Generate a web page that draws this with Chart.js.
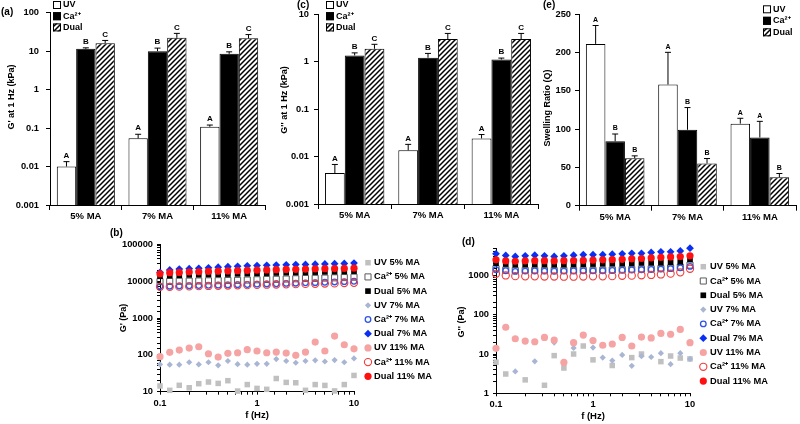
<!DOCTYPE html>
<html lang="en">
<head>
<meta charset="UTF-8">
<title>MA hydrogel rheology and swelling</title>
<script src="https://cdn.jsdelivr.net/npm/chart.js"></script>
<style>
  body { margin: 0; background: #fff; }
  #wrap { position: relative; width: 800px; height: 424px; overflow: hidden; background: #fff; }
  #wrap canvas { position: absolute; left: 0; top: 0; }
</style>
</head>
<body>
<div id="wrap">
  <canvas id="chartA" width="800" height="424"></canvas>
  <canvas id="chartC" width="800" height="424"></canvas>
  <canvas id="chartE" width="800" height="424"></canvas>
  <canvas id="chartB" width="800" height="424"></canvas>
  <canvas id="chartD" width="800" height="424"></canvas>
</div>
<script>
// ---- data ----
const groups = ['5% MA', '7% MA', '11% MA'];

// (a) G' at 1 Hz (kPa), mean and upper error
const gpUV = [0.010, 0.054, 0.108];
const gpCa = [11.5, 10.0, 8.5];
const gpDual = [16.1, 22.2, 21.5];
const gpUVErr = [0.0034, 0.015, 0.012];
const gpCaErr = [0.7, 2.0, 1.1];
const gpDualErr = [2.9, 6.8, 5.5];

// (c) G'' at 1 Hz (kPa)
const gppUV = [0.0045, 0.0135, 0.024];
const gppCa = [1.34, 1.20, 1.10];
const gppDual = [1.85, 2.97, 2.97];
const gppUVErr = [0.0023, 0.0045, 0.005];
const gppCaErr = [0.18, 0.28, 0.08];
const gppDualErr = [0.45, 0.93, 0.93];

// (e) swelling ratio Q
const swUV = [211, 158, 107];
const swCa = [84, 99, 89];
const swDual = [62, 55, 37];
const swUVErr = [24, 42, 7];
const swCaErr = [9.5, 29, 21];
const swDualErr = [3, 6.5, 5];

// significance letters
const modUVLetters = ['A', 'A', 'A'];
const modCaLetters = ['B', 'B', 'B'];
const modDualLetters = ['C', 'C', 'C'];
const swUVLetters = ['A', 'A', 'A'];
const swCaLetters = ['B', 'B', 'A'];
const swDualLetters = ['B', 'B', 'B'];

// frequency sweep (Hz)
const freq = [0.1, 0.126, 0.158, 0.2, 0.251, 0.316, 0.398, 0.501, 0.631, 0.794, 1,
              1.26, 1.58, 2, 2.51, 3.16, 3.98, 5.01, 6.31, 7.94, 10];

const seriesNames = ['UV 5% MA', 'Ca²⁺ 5% MA', 'Dual 5% MA', 'UV 7% MA', 'Ca²⁺ 7% MA',
                     'Dual 7% MA', 'UV 11% MA', 'Ca²⁺ 11% MA', 'Dual 11% MA'];

// (b) G' (Pa)
const bUV5 = [14.3, 10.9, 14.9, 12.8, 16.5, 18.3, 16.8, 19.9, 10.4, 15.6, 12.3, 11.6, 22.8, 17.9, 17.5, 10.9, 15.6, 14.8, 10.5, 15.6, 27.6];
const bCa5 = [9700, 9800, 9900, 10000, 10100, 10200, 10300, 10400, 10500, 10700, 10900, 11100, 11200, 11400, 11600, 11800, 11900, 12100, 12300, 12500, 12800];
const bDual5 = [13600, 14200, 14500, 14800, 15000, 15200, 15400, 15600, 15800, 16000, 16300, 16500, 16700, 17000, 17200, 17400, 17600, 17900, 18100, 18400, 18700];
const bUV7 = [55, 54, 54, 63, 55, 63, 52, 68, 56, 54, 57, 57, 77, 68, 61, 68, 71, 66, 72, 63, 80];
const bCa7 = [7300, 7300, 7400, 7500, 7600, 7700, 7800, 7900, 8000, 8100, 8300, 8400, 8500, 8700, 8800, 9000, 9100, 9300, 9500, 9700, 9900];
const bDual7 = [17400, 20100, 21200, 21800, 22300, 23000, 24000, 24600, 25200, 26000, 26400, 26800, 27300, 27800, 28100, 28500, 28900, 29300, 29800, 30200, 31000];
const bUV11 = [89, 117, 135, 153, 166, 107, 87, 110, 114, 138, 127, 114, 119, 112, 97, 119, 222, 127, 324, 188, 146];
const bCa11 = [7000, 7000, 7100, 7200, 7300, 7400, 7500, 7600, 7700, 7800, 7900, 8000, 8100, 8200, 8300, 8400, 8500, 8600, 8700, 8900, 9000];
const bDual11 = [15900, 17000, 17300, 17700, 18000, 18400, 18700, 19000, 19300, 19600, 19900, 20200, 20500, 20800, 21000, 21300, 21500, 21800, 22000, 22200, 22500];

// (d) G'' (Pa), null = no point shown
const dUV5 = [6.2, 3.1, null, 2.2, null, 1.6, 9.1, 4.4, 10, 16, 7.1, null, 5.1, null, 8.1, 10, null, 6.4, 8.9, 7.9, 7.5];
const dCa5 = [1480, 1360, 1330, 1340, 1340, 1330, 1330, 1340, 1340, 1350, 1350, 1360, 1380, 1400, 1420, 1440, 1470, 1500, 1550, 1620, 1830];
const dDual5 = [2060, 1950, 1900, 1920, 1930, 1920, 1900, 1910, 1920, 1930, 1950, 1980, 2000, 2020, 2050, 2080, 2100, 2130, 2150, 2200, 2580];
const dUV7 = [null, null, 3.6, null, 6.5, null, 19.6, null, 14.3, null, 14.6, 8.1, 6.8, 9.5, 5.0, 8.8, 8.4, 10.5, 5.5, 10.5, 7.5];
const dCa7 = [1400, 1320, 1270, 1290, 1300, 1290, 1280, 1290, 1300, 1310, 1310, 1320, 1340, 1360, 1380, 1400, 1420, 1450, 1490, 1560, 1700];
const dDual7 = [3560, 3230, 3040, 3160, 3290, 3160, 3040, 3160, 3290, 3390, 3390, 3390, 3480, 3560, 3650, 3650, 3840, 4000, 4000, 4200, 4940];
const dUV11 = [14, 48, 24.5, 21.3, 20.5, 26.5, 22.6, 6.1, 19.4, 30.3, 22, 16.7, 18, 26.5, 16, 27, 25.7, 33.4, 31.9, 42.4, 19.4];
const dCa11 = [1100, 1000, 960, 950, 950, 940, 940, 930, 930, 940, 950, 950, 960, 980, 990, 1010, 1030, 1060, 1110, 1200, 1480];
const dDual11 = [2500, 2350, 2300, 2350, 2380, 2380, 2350, 2380, 2400, 2420, 2450, 2500, 2520, 2580, 2650, 2700, 2800, 2880, 2970, 3040, 3160];

// ---- styling ----
const FONT = "'Liberation Sans', Arial, Helvetica, sans-serif";
Chart.defaults.font.family = FONT;
Chart.defaults.font.size = 9;
Chart.defaults.font.weight = 'bold';
Chart.defaults.color = '#000';
Chart.defaults.animation = false;
Chart.defaults.responsive = false;
Chart.defaults.plugins.legend.display = false;
Chart.defaults.plugins.tooltip.enabled = false;

const YW = 40, XH = 20; // fixed axis box sizes so plot areas land where wanted

function font(size) { return 'bold ' + size + 'px ' + FONT; }
function isDecade(v) { const l = Math.log10(v); return Math.abs(l - Math.round(l)) < 1e-6; }
function decLabel(v) { return isDecade(v) ? String(Number(v.toPrecision(3))) : ''; }

function frame(L, R, T, B) {
  return { padding: { left: L - YW, right: 800 - R, top: T, bottom: 424 - B - XH } };
}

// diagonal hatch for the Dual bars
const hatch = (() => {
  const c = document.createElement('canvas');
  c.width = 5; c.height = 5;
  const g = c.getContext('2d');
  g.fillStyle = '#fff'; g.fillRect(0, 0, 5, 5);
  g.strokeStyle = '#000'; g.lineWidth = 1.5;
  g.beginPath();
  g.moveTo(-1, 6); g.lineTo(6, -1);
  g.moveTo(-1, 1); g.lineTo(1, -1);
  g.moveTo(4, 6); g.lineTo(6, 4);
  g.stroke();
  return g.createPattern(c, 'repeat');
})();

const markStyles = [
  { shape: 'rect', r: 3.9, fill: '#c0c0c0', lw: 0 },
  { shape: 'rect', r: 4.3, fill: 'rgba(0,0,0,0)', stroke: '#5a5a5a', lw: 1 },
  { shape: 'rect', r: 4, fill: '#000', lw: 0 },
  { shape: 'rectRot', r: 3.1, fill: '#a9b6d3', lw: 0 },
  { shape: 'circle', r: 2.8, fill: 'rgba(0,0,0,0)', stroke: '#2f55e6', lw: 1.3 },
  { shape: 'rectRot', r: 3.9, fill: '#0a2ff2', lw: 0 },
  { shape: 'circle', r: 3.6, fill: '#f5a3a3', lw: 0 },
  { shape: 'circle', r: 3.6, fill: 'rgba(0,0,0,0)', stroke: '#f23b3b', lw: 1.1 },
  { shape: 'circle', r: 3.6, fill: '#ff1010', lw: 0 }
];

function marker(ctx, s, x, y) {
  ctx.beginPath();
  if (s.shape === 'rect') {
    const h = s.r * Math.SQRT1_2;
    ctx.rect(x - h, y - h, 2 * h, 2 * h);
  } else if (s.shape === 'rectRot') {
    ctx.moveTo(x - s.r, y); ctx.lineTo(x, y - s.r); ctx.lineTo(x + s.r, y); ctx.lineTo(x, y + s.r);
    ctx.closePath();
  } else {
    ctx.arc(x, y, s.r, 0, Math.PI * 2);
  }
  ctx.fillStyle = s.fill; ctx.fill();
  if (s.lw) { ctx.lineWidth = s.lw; ctx.strokeStyle = s.stroke; ctx.stroke(); }
}

// error bars, letters, free texts and hand-made keys
const extras = {
  id: 'extras',
  afterDraw(chart, args, o) {
    const ctx = chart.ctx;
    ctx.save();
    const ys = chart.scales.y;
    chart.data.datasets.forEach((ds, di) => {
      if (!ds.errs) return;
      chart.getDatasetMeta(di).data.forEach((bar, i) => {
        const top = ys.getPixelForValue(ds.data[i] + ds.errs[i]);
        ctx.strokeStyle = '#000'; ctx.lineWidth = 1;
        ctx.beginPath();
        ctx.moveTo(bar.x, bar.y); ctx.lineTo(bar.x, top);
        ctx.moveTo(bar.x - o.cap, top); ctx.lineTo(bar.x + o.cap, top);
        ctx.stroke();
        ctx.fillStyle = '#000'; ctx.font = font(o.letterSize);
        ctx.textAlign = 'center'; ctx.textBaseline = 'bottom';
        ctx.fillText(ds.letters[i], bar.x, top - 2);
      });
    });
    (o.texts || []).forEach(t => {
      ctx.save();
      ctx.fillStyle = '#000'; ctx.font = font(t.size || 9);
      ctx.textAlign = t.align || 'center'; ctx.textBaseline = 'middle';
      ctx.translate(t.x, t.y);
      if (t.rot) ctx.rotate(-Math.PI / 2);
      ctx.fillText(t.t, 0, 0);
      ctx.restore();
    });
    if (o.boxes) {
      const k = o.boxes;
      k.items.forEach((it, i) => {
        const y = k.y0 + i * k.dy;
        ctx.fillStyle = it.fill;
        ctx.fillRect(k.x, y - 4, 8, 8);
        ctx.strokeStyle = '#000'; ctx.lineWidth = 1;
        ctx.strokeRect(k.x + 0.5, y - 3.5, 7, 7);
        ctx.fillStyle = '#000'; ctx.font = font(9);
        ctx.textAlign = 'left'; ctx.textBaseline = 'middle';
        ctx.fillText(it.t, k.x + 10, y);
      });
    }
    if (o.points) {
      const k = o.points;
      seriesNames.forEach((name, i) => {
        const y = k.y0 + i * k.dy;
        marker(ctx, markStyles[i], k.x, y);
        ctx.fillStyle = '#000'; ctx.font = font(9.3);
        ctx.textAlign = 'left'; ctx.textBaseline = 'middle';
        ctx.fillText(name, k.tx, y);
      });
    }
    ctx.restore();
  }
};

const barKeys = [
  { t: 'UV', fill: '#fff' },
  { t: 'Ca²⁺', fill: '#000' },
  { t: 'Dual', fill: hatch }
];

function barSets(vals, errs, letters) {
  const fills = ['#fff', '#000', hatch];
  return vals.map((v, i) => ({
    label: barKeys[i].t,
    data: v,
    errs: errs[i],
    letters: letters[i],
    backgroundColor: fills[i],
    borderColor: '#000',
    borderWidth: 1
  }));
}

function catAxis() {
  return {
    type: 'category',
    afterFit: s => { s.height = XH; },
    grid: { offset: true, drawOnChartArea: false, tickLength: 5, color: '#000' },
    border: { color: '#000', width: 1 },
    ticks: { padding: 1, maxRotation: 0, font: { size: 9.5 } }
  };
}

function logAxis(min, max, pad, allTicks, tl) {
  return {
    type: 'logarithmic', min: min, max: max,
    afterFit: s => { if (s.isHorizontal()) s.height = XH; else s.width = YW; },
    grid: {
      drawOnChartArea: false, tickLength: tl, color: '#000',
      tickColor: c => (allTicks || isDecade(c.tick.value)) ? '#000' : 'rgba(0,0,0,0)'
    },
    border: { color: '#000', width: 1 },
    ticks: { padding: pad, autoSkip: false, maxRotation: 0, callback: decLabel, font: { size: 9.3 } }
  };
}

function barChart(id, L, R, T, B, yScale, sets, plug) {
  return new Chart(document.getElementById(id), {
    type: 'bar',
    data: { labels: groups, datasets: sets },
    options: {
      layout: frame(L, R, T, B),
      datasets: { bar: { categoryPercentage: 0.81, barPercentage: 1 } },
      scales: { x: catAxis(), y: yScale },
      plugins: { extras: plug }
    },
    plugins: [extras]
  });
}

function pts(vals) {
  return freq.map((f, i) => ({ x: f, y: vals[i] })).filter(p => p.y !== null);
}

function scatterChart(id, L, R, T, B, yMin, yMax, series, plug) {
  return new Chart(document.getElementById(id), {
    type: 'scatter',
    data: {
      datasets: series.map((vals, i) => ({
        label: seriesNames[i],
        data: pts(vals),
        order: 9 - i,
        clip: false,
        pointStyle: markStyles[i].shape,
        pointRadius: markStyles[i].r,
        backgroundColor: markStyles[i].fill,
        borderColor: markStyles[i].stroke || markStyles[i].fill,
        borderWidth: markStyles[i].lw
      }))
    },
    options: {
      layout: frame(L, R, T, B),
      scales: {
        x: logAxis(0.1, 10, 3, true, 3),
        y: logAxis(yMin, yMax, 4, true, 3)
      },
      plugins: { extras: plug }
    },
    plugins: [extras]
  });
}

// (a)
barChart('chartA', 50, 265, 12.7, 205,
  logAxis(0.001, 100, 7, false, 4),
  barSets([gpUV, gpCa, gpDual], [gpUVErr, gpCaErr, gpDualErr], [modUVLetters, modCaLetters, modDualLetters]),
  {
    cap: 3, letterSize: 8,
    texts: [
      { t: '(a)', x: 1, y: 12.7, size: 10, align: 'left' },
      { t: "G' at 1 Hz (kPa)", x: 12, y: 97, rot: true }
    ],
    boxes: { x: 53, y0: 5, dy: 11.2, items: barKeys }
  });

// (c)
barChart('chartC', 318, 538, 14, 204,
  logAxis(0.001, 10, 5, false, 4),
  barSets([gppUV, gppCa, gppDual], [gppUVErr, gppCaErr, gppDualErr], [modUVLetters, modCaLetters, modDualLetters]),
  {
    cap: 3, letterSize: 8,
    texts: [
      { t: '(c)', x: 297, y: 5, size: 10, align: 'left' },
      { t: "G'' at 1 Hz (kPa)", x: 285, y: 100, rot: true }
    ],
    boxes: { x: 326, y0: 5, dy: 11.2, items: barKeys }
  });

// (e)
barChart('chartE', 579, 796, 14, 205.7,
  {
    type: 'linear', min: 0, max: 250,
    afterFit: s => { s.width = YW; },
    grid: { drawOnChartArea: false, tickLength: 4, color: '#000' },
    border: { color: '#000', width: 1 },
    ticks: { stepSize: 50, padding: 4, font: { size: 9.3 } }
  },
  barSets([swUV, swCa, swDual], [swUVErr, swCaErr, swDualErr], [swUVLetters, swCaLetters, swDualLetters]),
  {
    cap: 3, letterSize: 7,
    texts: [
      { t: '(e)', x: 543, y: 5, size: 10, align: 'left' },
      { t: 'Swelling Ratio (Q)', x: 548, y: 108, rot: true }
    ],
    boxes: { x: 763, y0: 9.3, dy: 11.5, items: barKeys }
  });

// (b)
scatterChart('chartB', 160, 354, 244.3, 391.7, 10, 100000,
  [bUV5, bCa5, bDual5, bUV7, bCa7, bDual7, bUV11, bCa11, bDual11],
  {
    texts: [
      { t: '(b)', x: 110, y: 233, size: 10, align: 'left' },
      { t: "G' (Pa)", x: 124, y: 318, rot: true },
      { t: 'f (Hz)', x: 257, y: 415, size: 9.5 }
    ],
    points: { x: 368, tx: 374, y0: 262.7, dy: 14.2 }
  });

// (d)
scatterChart('chartD', 496, 690, 248, 393.3, 1, 5000,
  [dUV5, dCa5, dDual5, dUV7, dCa7, dDual7, dUV11, dCa11, dDual11],
  {
    texts: [
      { t: '(d)', x: 462, y: 242, size: 10, align: 'left' },
      { t: "G'' (Pa)", x: 462, y: 322, rot: true },
      { t: 'f (Hz)', x: 593, y: 416, size: 9.5 }
    ],
    points: { x: 703.3, tx: 710, y0: 266.7, dy: 14.3 }
  });
</script>
</body>
</html>
